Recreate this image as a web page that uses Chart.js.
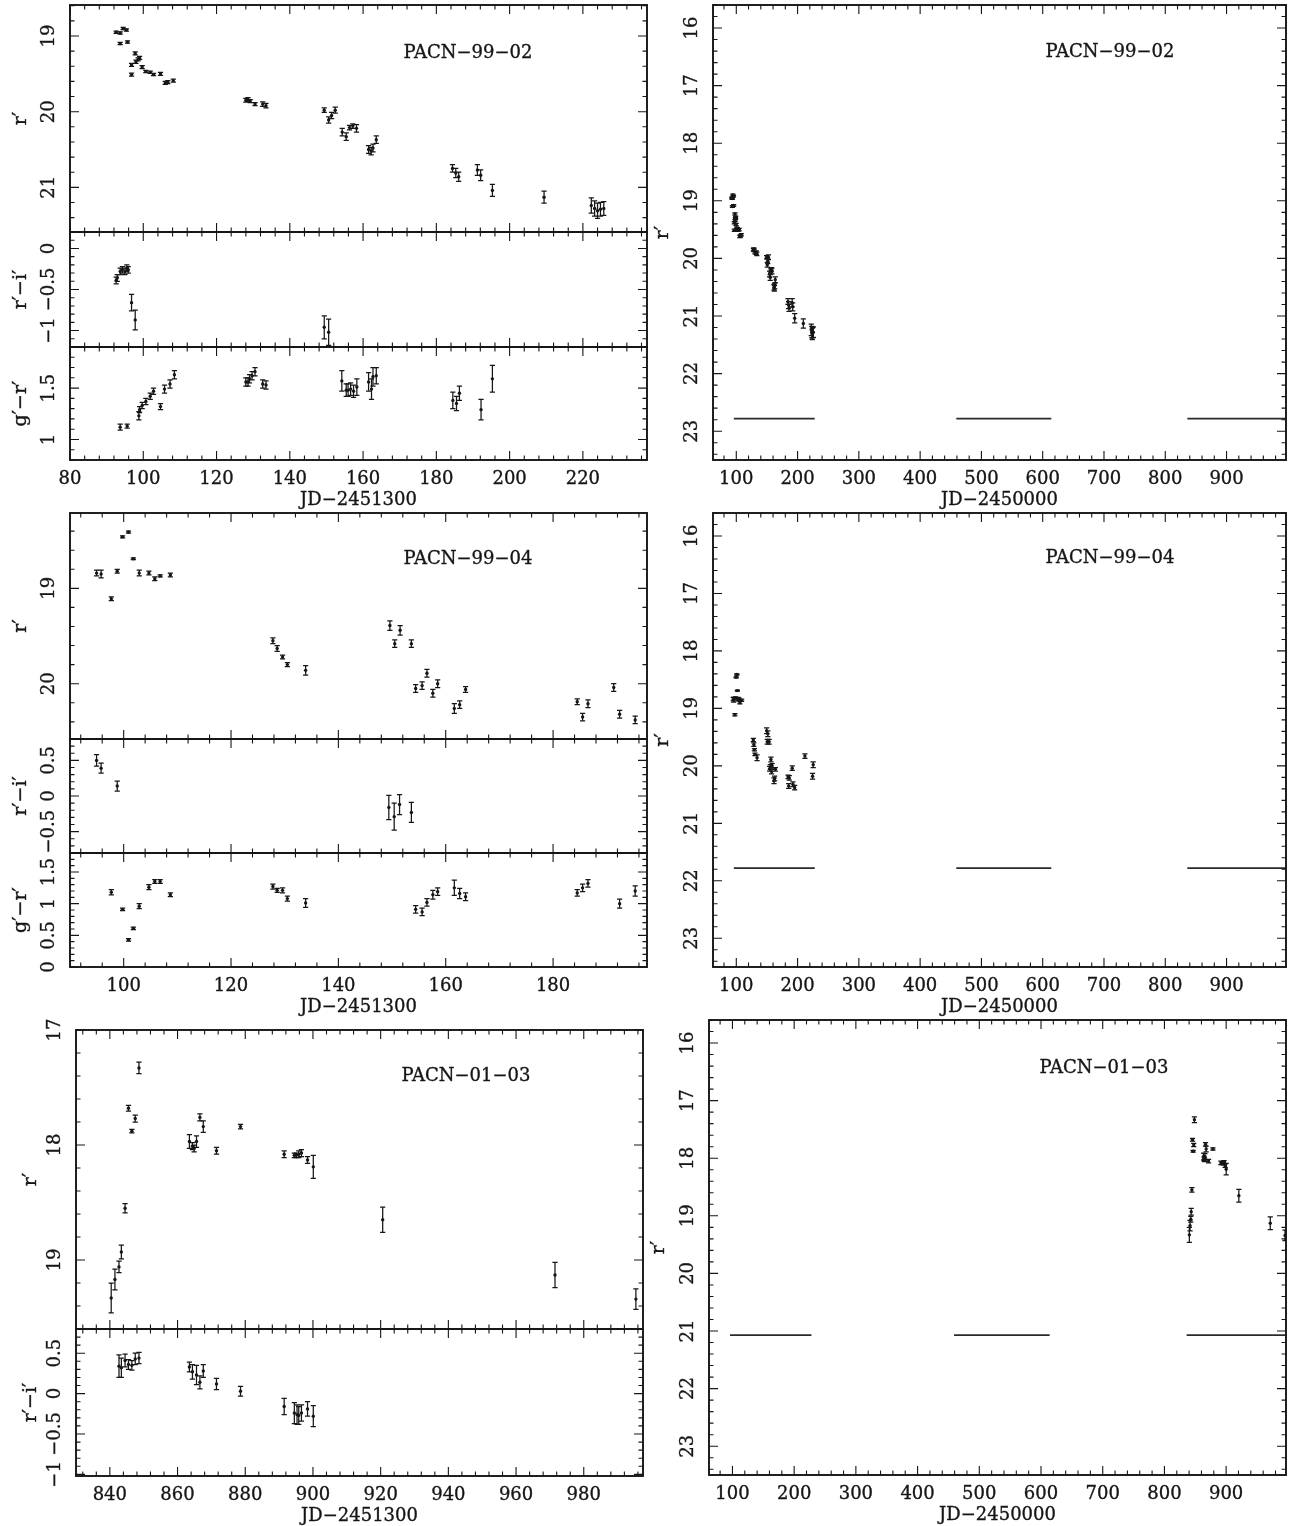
<!DOCTYPE html>
<html>
<head>
<meta charset="utf-8">
<script src="https://cdn.jsdelivr.net/npm/chart.js@4.4.1/dist/chart.umd.min.js"></script>
<style>
  html, body { margin: 0; padding: 0; background: #fff; }
  #page { position: relative; width: 1290px; height: 1526px; overflow: hidden; }
  #page canvas { position: absolute; left: 0; top: 0; }
</style>
</head>
<body>
<div id="page"></div>
<script>
// ---- PACN-99-02 ----
const t9902 = [92.6, 93.7, 94.5, 95.4, 93.7, 95.7, 96.8, 96.8, 97.8, 98.0, 98.6, 99.0, 99.7, 100.7, 101.9, 102.8, 104.7, 106.0, 106.7, 108.2,
  128.0, 128.6, 129.2, 130.5, 132.6, 133.5, 149.4, 150.6, 151.4, 152.4, 154.3, 155.4, 156.3, 157.2, 158.2, 161.5, 162.2, 162.7, 163.6,
  184.4, 185.3, 186.1, 191.2, 192.1, 195.3, 209.4, 222.3, 223.2, 224.0, 224.8, 225.7];
const r9902 = [18.95, 18.96, 18.90, 18.92, 19.10, 19.08, 19.38, 19.51, 19.23, 19.34, 19.31, 19.29, 19.41, 19.47, 19.48, 19.51, 19.50, 19.62, 19.61, 19.59,
  19.85, 19.84, 19.86, 19.90, 19.90, 19.92, 19.98, 20.11, 20.05, 19.98, 20.27, 20.33, 20.21, 20.19, 20.22, 20.50, 20.52, 20.48, 20.37,
  20.75, 20.81, 20.86, 20.77, 20.84, 21.04, 21.13, 21.24, 21.28, 21.31, 21.29, 21.28];
const rErr9902 = [0.015, 0.015, 0.015, 0.015, 0.015, 0.015, 0.02, 0.02, 0.02, 0.02, 0.02, 0.02, 0.02, 0.015, 0.015, 0.015, 0.02, 0.02, 0.02, 0.02,
  0.025, 0.025, 0.02, 0.02, 0.03, 0.03, 0.03, 0.04, 0.04, 0.04, 0.05, 0.05, 0.03, 0.03, 0.05, 0.05, 0.05, 0.05, 0.05,
  0.05, 0.06, 0.06, 0.07, 0.07, 0.08, 0.08, 0.1, 0.1, 0.1, 0.09, 0.09];
const tRi9902 = [92.6, 92.9, 93.7, 94.3, 95.0, 95.5, 95.9, 96.8, 97.8, 149.4, 150.6];
const ri9902 = [-0.39, -0.36, -0.28, -0.26, -0.28, -0.24, -0.26, -0.66, -0.87, -0.96, -1.02];
const riErr9902 = [0.04, 0.04, 0.04, 0.04, 0.04, 0.04, 0.04, 0.1, 0.12, 0.14, 0.16];
const tGr9902 = [93.7, 95.6, 98.8, 99.0, 99.7, 100.7, 101.9, 102.8, 104.7, 105.8, 107.3, 108.5, 128.0, 128.6, 129.0, 129.7, 130.5, 132.6, 133.5,
  154.2, 155.4, 155.9, 156.6, 157.4, 158.3, 161.5, 162.3, 162.7, 163.6, 184.5, 185.5, 186.3, 192.2, 195.3];
const gr9902 = [1.12, 1.13, 1.23, 1.29, 1.33, 1.37, 1.42, 1.47, 1.32, 1.49, 1.54, 1.63, 1.56, 1.56, 1.59, 1.62, 1.66, 1.54, 1.53,
  1.57, 1.48, 1.48, 1.49, 1.47, 1.51, 1.56, 1.49, 1.61, 1.62, 1.38, 1.35, 1.45, 1.29, 1.59];
const grErr9902 = [0.03, 0.02, 0.04, 0.03, 0.03, 0.03, 0.03, 0.03, 0.03, 0.04, 0.04, 0.04, 0.04, 0.04, 0.04, 0.04, 0.04, 0.04, 0.04,
  0.1, 0.06, 0.06, 0.06, 0.06, 0.08, 0.09, 0.1, 0.09, 0.08, 0.08, 0.07, 0.07, 0.1, 0.13];

// ---- PACN-99-04 ----
const t9904 = [94.95, 95.8, 97.7, 98.8, 99.8, 100.9, 101.8, 102.9, 104.7, 105.8, 106.8, 108.7, 127.8, 128.6, 129.6, 130.5, 133.9,
  149.6, 150.5, 151.5, 153.6, 154.4, 155.6, 156.5, 157.6, 158.5, 161.6, 162.6, 163.7, 184.5, 185.5, 186.5, 191.3, 192.4, 195.3,
  212.0, 224.5, 225.5];
const r9904 = [18.84, 18.85, 19.11, 18.82, 18.46, 18.41, 18.69, 18.84, 18.84, 18.90, 18.87, 18.86, 19.55, 19.63, 19.72, 19.80, 19.86,
  19.39, 19.58, 19.44, 19.58, 20.05, 20.02, 19.89, 20.10, 20.00, 20.26, 20.22, 20.06, 20.19, 20.35, 20.21, 20.04, 20.32, 20.38,
  19.83, 20.18, 19.98];
const rErr9904 = [0.03, 0.04, 0.02, 0.02, 0.01, 0.01, 0.01, 0.03, 0.02, 0.02, 0.01, 0.02, 0.03, 0.03, 0.02, 0.02, 0.05,
  0.05, 0.04, 0.05, 0.04, 0.04, 0.04, 0.04, 0.04, 0.04, 0.05, 0.04, 0.03, 0.03, 0.04, 0.04, 0.04, 0.04, 0.04,
  0.04, 0.05, 0.05];
const tRi9904 = [94.95, 95.8, 98.8, 149.4, 150.4, 151.4, 153.6];
const ri9904 = [0.50, 0.39, 0.14, -0.16, -0.29, -0.12, -0.23];
const riErr9904 = [0.08, 0.07, 0.07, 0.17, 0.19, 0.14, 0.14];
const tGr9904 = [97.7, 99.8, 100.9, 101.8, 102.9, 104.7, 105.8, 106.8, 108.7, 127.8, 128.6, 129.6, 130.5, 133.9,
  154.4, 155.6, 156.5, 157.6, 158.5, 161.6, 162.6, 163.7, 184.5, 185.5, 186.5, 192.4, 195.3];
const gr9904 = [1.18, 0.91, 0.43, 0.61, 0.96, 1.26, 1.35, 1.35, 1.14, 1.27, 1.21, 1.21, 1.08, 1.01,
  0.91, 0.87, 1.02, 1.14, 1.19, 1.25, 1.16, 1.11, 1.17, 1.25, 1.32, 1.00, 1.20];
const grErr9904 = [0.04, 0.02, 0.02, 0.02, 0.04, 0.04, 0.03, 0.03, 0.03, 0.04, 0.03, 0.04, 0.04, 0.07,
  0.06, 0.06, 0.06, 0.07, 0.06, 0.12, 0.08, 0.06, 0.05, 0.06, 0.06, 0.07, 0.08];

// ---- PACN-01-03 ----
const t0103 = [840.4, 841.5, 842.7, 843.4, 844.5, 845.5, 846.5, 847.5, 848.6, 863.5, 864.4, 864.9, 865.6, 866.6, 867.6, 871.5, 878.6,
  891.5, 894.5, 895.1, 895.8, 896.6, 898.4, 900.1, 920.6, 971.5, 995.4];
const r0103 = [19.33, 19.17, 19.06, 18.93, 18.55, 17.68, 17.88, 17.77, 17.33, 17.97, 18.01, 18.03, 17.97, 17.76, 17.84, 18.05, 17.84,
  18.08, 18.09, 18.09, 18.08, 18.07, 18.13, 18.19, 18.65, 19.13, 19.34];
const rErr0103 = [0.13, 0.09, 0.05, 0.06, 0.04, 0.025, 0.015, 0.03, 0.05, 0.06, 0.03, 0.03, 0.05, 0.03, 0.05, 0.03, 0.02,
  0.03, 0.02, 0.02, 0.03, 0.03, 0.03, 0.10, 0.11, 0.11, 0.09];
const tRi0103 = [842.7, 843.4, 844.5, 845.5, 846.5, 847.5, 848.6, 863.5, 864.4, 865.6, 866.6, 867.6, 871.5, 878.6,
  891.5, 894.5, 895.3, 895.8, 896.6, 898.4, 900.1];
const ri0103 = [0.34, 0.32, 0.41, 0.36, 0.35, 0.43, 0.44, 0.33, 0.27, 0.23, 0.14, 0.28, 0.12, 0.03,
  -0.16, -0.24, -0.26, -0.27, -0.24, -0.19, -0.28];
const riErr0103 = [0.14, 0.12, 0.08, 0.06, 0.06, 0.07, 0.07, 0.06, 0.09, 0.12, 0.08, 0.08, 0.07, 0.06,
  0.10, 0.13, 0.12, 0.11, 0.10, 0.09, 0.13];

// observing seasons (JD-2450000) shown as bars in the right-hand panels
const seasonStart = [96, 459, 836];
const seasonEnd = [228, 614, 1000];
const seasonLevel = [22.78, 21.78, 21.07];

// tick labels
const xTicks9902 = [80, 100, 120, 140, 160, 180, 200, 220];
const xTicks9904 = [100, 120, 140, 160, 180];
const xTicks0103 = [840, 860, 880, 900, 920, 940, 960, 980];
const xTicksLong = [100, 200, 300, 400, 500, 600, 700, 800, 900];
const rTicks9902 = [19, 20, 21];
const rTicks9904 = [19, 20];
const rTicks0103 = [17, 18, 19];
const rTicksLong = [16, 17, 18, 19, 20, 21, 22, 23];
const riTicks9902 = [0, -0.5, -1];
const riTicks9904 = [0.5, 0, -0.5];
const riTicks0103 = [0.5, 0, -0.5, -1];
const grTicks9902 = [1, 1.5];
const grTicks9904 = [0, 0.5, 1, 1.5];

const W = 1290, H = 1526;
const FONT = '"DejaVu Serif", "Liberation Serif", serif';
const INK = '#161616';

const pts = (t, v) => t.map((x, i) => ({ x: x, y: v[i] }));
const fmt = v => String(v).replace('-', '\u2212');

function steps(min, max, step) {
  const out = [];
  const lo = Math.min(min, max), hi = Math.max(min, max);
  for (let k = Math.ceil(lo / step - 1e-6); k <= Math.floor(hi / step + 1e-6); k++) out.push(k * step);
  return out;
}

// text with a hairline outline so it reads as heavy as the plotted strokes
function label(ctx, text, x, y) {
  ctx.fillText(text, x, y);
  ctx.strokeText(text, x, y);
}

// PGPLOT-like frame: box, inward ticks on all sides, labels, error bars
const frame = {
  id: 'frame',
  beforeDatasetsDraw(chart) {
    const ctx = chart.ctx, a = chart.chartArea;
    const xs = chart.scales.x, ys = chart.scales.y;
    ctx.save();
    ctx.beginPath();
    ctx.rect(a.left, a.top, a.right - a.left, a.bottom - a.top);
    ctx.clip();
    ctx.strokeStyle = INK;
    ctx.lineWidth = 1.25;
    chart.data.datasets.forEach(ds => {
      if (!ds.errors) return;
      ds.data.forEach((p, i) => {
        const px = xs.getPixelForValue(p.x);
        const y0 = ys.getPixelForValue(p.y - ds.errors[i]);
        const y1 = ys.getPixelForValue(p.y + ds.errors[i]);
        ctx.beginPath();
        ctx.moveTo(px, y0); ctx.lineTo(px, y1);
        ctx.moveTo(px - 2.6, y0); ctx.lineTo(px + 2.6, y0);
        ctx.moveTo(px - 2.6, y1); ctx.lineTo(px + 2.6, y1);
        ctx.stroke();
      });
    });
    ctx.restore();
  },
  afterDraw(chart, args, o) {
    const ctx = chart.ctx, a = chart.chartArea;
    const xs = chart.scales.x, ys = chart.scales.y;
    const major = 9, minor = 4.5;
    ctx.save();
    ctx.strokeStyle = INK;
    ctx.fillStyle = INK;
    ctx.lineWidth = 1.1;
    ctx.beginPath();
    steps(xs.min, xs.max, o.xMinor).forEach(v => {
      const px = xs.getPixelForValue(v);
      const L = o.xTicks.some(m => Math.abs(m - v) < 1e-6) ? major : minor;
      ctx.moveTo(px, a.bottom); ctx.lineTo(px, a.bottom - L);
      ctx.moveTo(px, a.top); ctx.lineTo(px, a.top + L);
    });
    steps(ys.min, ys.max, o.yMinor).forEach(v => {
      const py = ys.getPixelForValue(v);
      const L = o.yTicks.some(m => Math.abs(m - v) < 1e-6) ? major : minor;
      ctx.moveTo(a.left, py); ctx.lineTo(a.left + L, py);
      ctx.moveTo(a.right, py); ctx.lineTo(a.right - L, py);
    });
    ctx.stroke();

    ctx.lineWidth = 1.9;
    ctx.strokeRect(a.left, a.top, a.right - a.left, a.bottom - a.top);

    ctx.lineWidth = 0.35;
    ctx.font = '18px ' + FONT;
    ctx.textAlign = 'center';
    ctx.textBaseline = 'middle';
    if (o.xTitle) {
      o.xTicks.forEach(v => label(ctx, fmt(v), xs.getPixelForValue(v), a.bottom + 19));
      label(ctx, o.xTitle, (a.left + a.right) / 2, a.bottom + 40);
    }
    o.yTicks.forEach(v => {
      ctx.save();
      ctx.translate(a.left - 21, ys.getPixelForValue(v));
      ctx.rotate(-Math.PI / 2);
      label(ctx, fmt(v), 0, 0);
      ctx.restore();
    });
    ctx.save();
    ctx.translate(a.left - o.yTitleGap, (a.top + a.bottom) / 2);
    ctx.rotate(-Math.PI / 2);
    ctx.font = '19px ' + FONT;
    label(ctx, o.yTitle, 0, 0);
    ctx.restore();
    if (o.note) {
      ctx.font = '18px ' + FONT;
      label(ctx, o.note, o.noteX, o.noteY);
    }
    ctx.restore();
  }
};

function series(t, v, e) {
  return {
    data: pts(t, v), errors: e, showLine: false,
    pointRadius: 1.7, pointBackgroundColor: INK, pointBorderWidth: 0
  };
}

function seasons(level) {
  return seasonStart.map((s, i) => ({
    data: [{ x: s, y: level }, { x: seasonEnd[i], y: level }],
    showLine: true, borderColor: '#2a2a2a', borderWidth: 1.7, pointRadius: 0
  }));
}

function panel(box, xr, yr, reverse, datasets, opts) {
  const c = document.createElement('canvas');
  c.width = W; c.height = H;
  document.getElementById('page').appendChild(c);
  return new Chart(c, {
    type: 'scatter',
    data: { datasets: datasets },
    options: {
      responsive: false, animation: false, devicePixelRatio: 1, events: [],
      layout: { padding: { left: box[0], top: box[1], right: W - box[2], bottom: H - box[3] } },
      scales: {
        x: { type: 'linear', display: false, min: xr[0], max: xr[1] },
        y: { type: 'linear', display: false, min: yr[0], max: yr[1], reverse: reverse }
      },
      plugins: { legend: { display: false }, tooltip: { enabled: false }, frame: opts }
    },
    plugins: [frame]
  });
}

const TITLE_A = 'JD\u22122451300';
const TITLE_B = 'JD\u22122450000';
const R = 'r\u2032', RI = 'r\u2032\u2212i\u2032', GR = 'g\u2032\u2212r\u2032';

// row 1
const x1 = [80, 237.5];
panel([70, 5, 647, 232], x1, [18.59, 21.59], true, [series(t9902, r9902, rErr9902)],
  { xTicks: xTicks9902, xMinor: 4, yTicks: rTicks9902, yMinor: 0.2, yTitle: R, yTitleGap: 49,
    note: 'PACN\u221299\u221202', noteX: 468, noteY: 53 });
panel([70, 232, 647, 347], x1, [-1.2, 0.2], false, [series(tRi9902, ri9902, riErr9902)],
  { xTicks: xTicks9902, xMinor: 4, yTicks: riTicks9902, yMinor: 0.1, yTitle: RI, yTitleGap: 49 });
panel([70, 347, 647, 460], x1, [0.8, 1.9], false, [series(tGr9902, gr9902, grErr9902)],
  { xTicks: xTicks9902, xMinor: 4, yTicks: grTicks9902, yMinor: 0.1, yTitle: GR, yTitleGap: 49, xTitle: TITLE_A });
panel([713, 5, 1288, 460], [62, 997], [15.6, 23.5], true,
  [series(t9902, r9902, rErr9902)].concat(seasons(seasonLevel[0])),
  { xTicks: xTicksLong, xMinor: 20, yTicks: rTicksLong, yMinor: 0.2, yTitle: R, yTitleGap: 50, xTitle: TITLE_B,
    note: 'PACN\u221299\u221202', noteX: 1110, noteY: 52 });

// row 2
const x2 = [90, 197.5];
panel([70, 513, 647, 739], x2, [18.21, 20.58], true, [series(t9904, r9904, rErr9904)],
  { xTicks: xTicks9904, xMinor: 4, yTicks: rTicks9904, yMinor: 0.2, yTitle: R, yTitleGap: 49,
    note: 'PACN\u221299\u221204', noteX: 468, noteY: 559 });
panel([70, 739, 647, 853], x2, [-0.8, 0.8], false, [series(tRi9904, ri9904, riErr9904)],
  { xTicks: xTicks9904, xMinor: 4, yTicks: riTicks9904, yMinor: 0.1, yTitle: RI, yTitleGap: 49 });
panel([70, 853, 647, 967], x2, [0, 1.8], false, [series(tGr9904, gr9904, grErr9904)],
  { xTicks: xTicks9904, xMinor: 4, yTicks: grTicks9904, yMinor: 0.1, yTitle: GR, yTitleGap: 49, xTitle: TITLE_A });
panel([713, 513, 1288, 967], [62, 997], [15.6, 23.5], true,
  [series(t9904, r9904, rErr9904)].concat(seasons(seasonLevel[1])),
  { xTicks: xTicksLong, xMinor: 20, yTicks: rTicksLong, yMinor: 0.2, yTitle: R, yTitleGap: 50, xTitle: TITLE_B,
    note: 'PACN\u221299\u221204', noteX: 1110, noteY: 558 });

// row 3
const x3 = [830, 997.5];
panel([76, 1030, 643, 1329], x3, [17.0, 19.6], true, [series(t0103, r0103, rErr0103)],
  { xTicks: xTicks0103, xMinor: 4, yTicks: rTicks0103, yMinor: 0.2, yTitle: R, yTitleGap: 45,
    note: 'PACN\u221201\u221203', noteX: 466, noteY: 1076 });
panel([76, 1329, 643, 1476], x3, [-1.02, 0.8], false, [series(tRi0103, ri0103, riErr0103)],
  { xTicks: xTicks0103, xMinor: 4, yTicks: riTicks0103, yMinor: 0.1, yTitle: RI, yTitleGap: 45, xTitle: TITLE_A });
panel([709, 1020, 1288, 1475], [62, 997], [15.6, 23.5], true,
  [series(t0103, r0103, rErr0103)].concat(seasons(seasonLevel[2])),
  { xTicks: xTicksLong, xMinor: 20, yTicks: rTicksLong, yMinor: 0.2, yTitle: R, yTitleGap: 50, xTitle: TITLE_B,
    note: 'PACN\u221201\u221203', noteX: 1104, noteY: 1068 });
</script>
</body>
</html>
